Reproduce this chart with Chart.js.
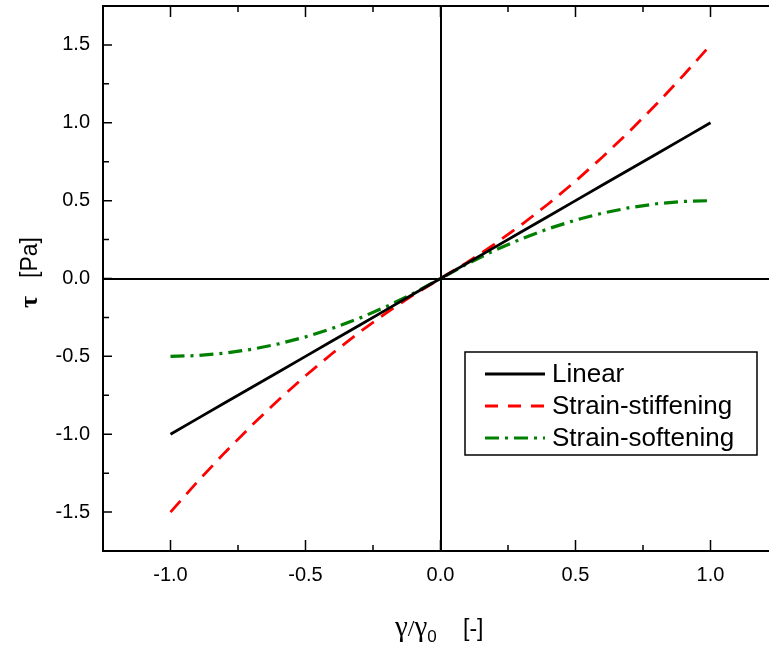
<!DOCTYPE html>
<html>
<head>
<meta charset="utf-8">
<script src="https://cdn.jsdelivr.net/npm/chart.js@4.4.1/dist/chart.umd.min.js"></script>
<style>
  html, body { margin: 0; padding: 0; background: #fff; overflow: hidden; }
  #wrap { width: 780px; height: 646px; }
</style>
</head>
<body>
<div id="wrap"><canvas id="chart"></canvas></div>
<script>
// data
const strain = [-1.0, -0.9, -0.8, -0.7, -0.6, -0.5, -0.4, -0.3, -0.2, -0.1, 0.0,
                0.1, 0.2, 0.3, 0.4, 0.5, 0.6, 0.7, 0.8, 0.9, 1.0];
const linear = [-1.0, -0.9, -0.8, -0.7, -0.6, -0.5, -0.4, -0.3, -0.2, -0.1, 0.0,
                0.1, 0.2, 0.3, 0.4, 0.5, 0.6, 0.7, 0.8, 0.9, 1.0];
const stiffening = [-1.5, -1.305, -1.12, -0.945, -0.78, -0.625, -0.48, -0.345, -0.22, -0.105, 0.0,
                    0.105, 0.22, 0.345, 0.48, 0.625, 0.78, 0.945, 1.12, 1.305, 1.5];
const softening = [-0.5, -0.495, -0.48, -0.455, -0.42, -0.375, -0.32, -0.255, -0.18, -0.095, 0.0,
                   0.095, 0.18, 0.255, 0.32, 0.375, 0.42, 0.455, 0.48, 0.495, 0.5];
const seriesNames = ["Linear", "Strain-stiffening", "Strain-softening"];
const xTicks = [-1.0, -0.5, 0.0, 0.5, 1.0];
const yTicks = [-1.5, -1.0, -0.5, 0.0, 0.5, 1.0, 1.5];

const toPts = (ys) => strain.map((x, i) => ({ x: x, y: ys[i] }));

// box, inward ticks, axis titles, legend
const framePlugin = {
  id: "frame",
  afterDatasetsDraw(chart) {
    const { ctx, chartArea: a, scales } = chart;
    const xs = scales.x, ys = scales.y;
    ctx.save();
    ctx.strokeStyle = "#000";
    ctx.lineWidth = 2;
    ctx.strokeRect(a.left, a.top, a.right - a.left, a.bottom - a.top);

    ctx.lineWidth = 1.5;
    ctx.beginPath();
    for (let v = -1.25; v <= 1.2501; v += 0.25) {
      const len = xTicks.some(t => Math.abs(t - v) < 1e-6) ? 11 : 6;
      const px = xs.getPixelForValue(v);
      ctx.moveTo(px, a.bottom); ctx.lineTo(px, a.bottom - len);
      ctx.moveTo(px, a.top); ctx.lineTo(px, a.top + len);
    }
    for (let v = -1.75; v <= 1.7501; v += 0.25) {
      const len = yTicks.some(t => Math.abs(t - v) < 1e-6) ? 9 : 6;
      const py = ys.getPixelForValue(v);
      ctx.moveTo(a.left, py); ctx.lineTo(a.left + len, py);
      ctx.moveTo(a.right, py); ctx.lineTo(a.right - len, py);
    }
    ctx.stroke();

    // axis titles
    ctx.fillStyle = "#000";
    ctx.textBaseline = "alphabetic";
    ctx.textAlign = "left";
    const greek = "29px 'Liberation Serif'";
    const sans = "23px 'Liberation Sans'";
    let x = 395, y = 636;
    ctx.font = greek; ctx.fillText("γ", x, y); x += ctx.measureText("γ").width;
    ctx.font = "24px 'Liberation Serif'"; ctx.fillText("/", x, y); x += ctx.measureText("/").width;
    ctx.font = greek; ctx.fillText("γ", x, y); x += ctx.measureText("γ").width;
    ctx.font = "17px 'Liberation Sans'"; ctx.fillText("0", x, y + 6);
    ctx.font = sans; ctx.fillText("[-]", 463, y);

    ctx.save();
    ctx.translate(37, 308);
    ctx.rotate(-Math.PI / 2);
    ctx.font = "bold 26px 'Liberation Serif'";
    ctx.fillText("τ", 0, 0);
    ctx.font = sans;
    ctx.fillText("[Pa]", 30, 0);
    ctx.restore();

    // legend box
    const bx = 465, by = 352, bw = 292, bh = 103;
    ctx.fillStyle = "#fff";
    ctx.fillRect(bx, by, bw, bh);
    ctx.lineWidth = 1.5;
    ctx.strokeRect(bx, by, bw, bh);
    chart.data.datasets.forEach((ds, i) => {
      const ly = by + 22 + i * 32;
      ctx.strokeStyle = ds.borderColor;
      ctx.lineWidth = ds.borderWidth;
      ctx.setLineDash(ds.legendDash || []);
      ctx.beginPath();
      ctx.moveTo(485, ly); ctx.lineTo(545, ly);
      ctx.stroke();
      ctx.setLineDash([]);
      ctx.fillStyle = "#000";
      ctx.font = "26px 'Liberation Sans'";
      ctx.textBaseline = "middle";
      ctx.fillText(ds.label, 552, ly + 1);
    });
    ctx.restore();
  }
};

const ctx = document.getElementById("chart").getContext("2d");
new Chart(ctx, {
  type: "scatter",
  data: {
    datasets: [
      {
        label: seriesNames[0],
        data: toPts(linear),
        showLine: true,
        borderColor: "#000000",
        borderWidth: 2.8,
        pointRadius: 0,
        legendDash: []
      },
      {
        label: seriesNames[1],
        data: toPts(stiffening),
        showLine: true,
        borderColor: "#ff0000",
        borderWidth: 2.8,
        borderDash: [15, 9],
        pointRadius: 0,
        legendDash: [13, 10]
      },
      {
        label: seriesNames[2],
        data: toPts(softening),
        showLine: true,
        borderColor: "#008000",
        borderWidth: 3.2,
        borderDash: [14, 6, 3, 6],
        pointRadius: 0,
        legendDash: [14, 6, 3, 6]
      }
    ]
  },
  options: {
    responsive: true,
    maintainAspectRatio: false,
    animation: false,
    layout: { padding: { left: 0, top: 6, right: 2, bottom: 0 } },
    plugins: {
      legend: { display: false },
      tooltip: { enabled: false }
    },
    scales: {
      x: {
        type: "linear",
        min: -1.25,
        max: 1.25,
        afterBuildTicks: (s) => { s.ticks = xTicks.map(v => ({ value: v })); },
        afterFit: (s) => { s.height = 95; s.paddingLeft = 0; s.paddingRight = 0; },
        border: { display: false },
        grid: {
          drawTicks: false,
          lineWidth: 2,
          color: (c) => (c.tick && c.tick.value === 0 ? "#000" : "rgba(0,0,0,0)")
        },
        ticks: {
          padding: 12,
          color: "#000",
          font: { family: "'Liberation Sans'", size: 20 },
          callback: (v) => Number(v).toFixed(1)
        }
      },
      y: {
        type: "linear",
        min: -1.75,
        max: 1.75,
        afterBuildTicks: (s) => { s.ticks = yTicks.map(v => ({ value: v })); },
        afterFit: (s) => { s.width = 103; s.paddingTop = 0; s.paddingBottom = 0; },
        border: { display: false },
        grid: {
          drawTicks: false,
          lineWidth: 2,
          color: (c) => (c.tick && c.tick.value === 0 ? "#000" : "rgba(0,0,0,0)")
        },
        ticks: {
          padding: 13,
          color: "#000",
          font: { family: "'Liberation Sans'", size: 20 },
          callback: (v) => Number(v).toFixed(1)
        }
      }
    }
  },
  plugins: [framePlugin]
});
</script>
</body>
</html>
